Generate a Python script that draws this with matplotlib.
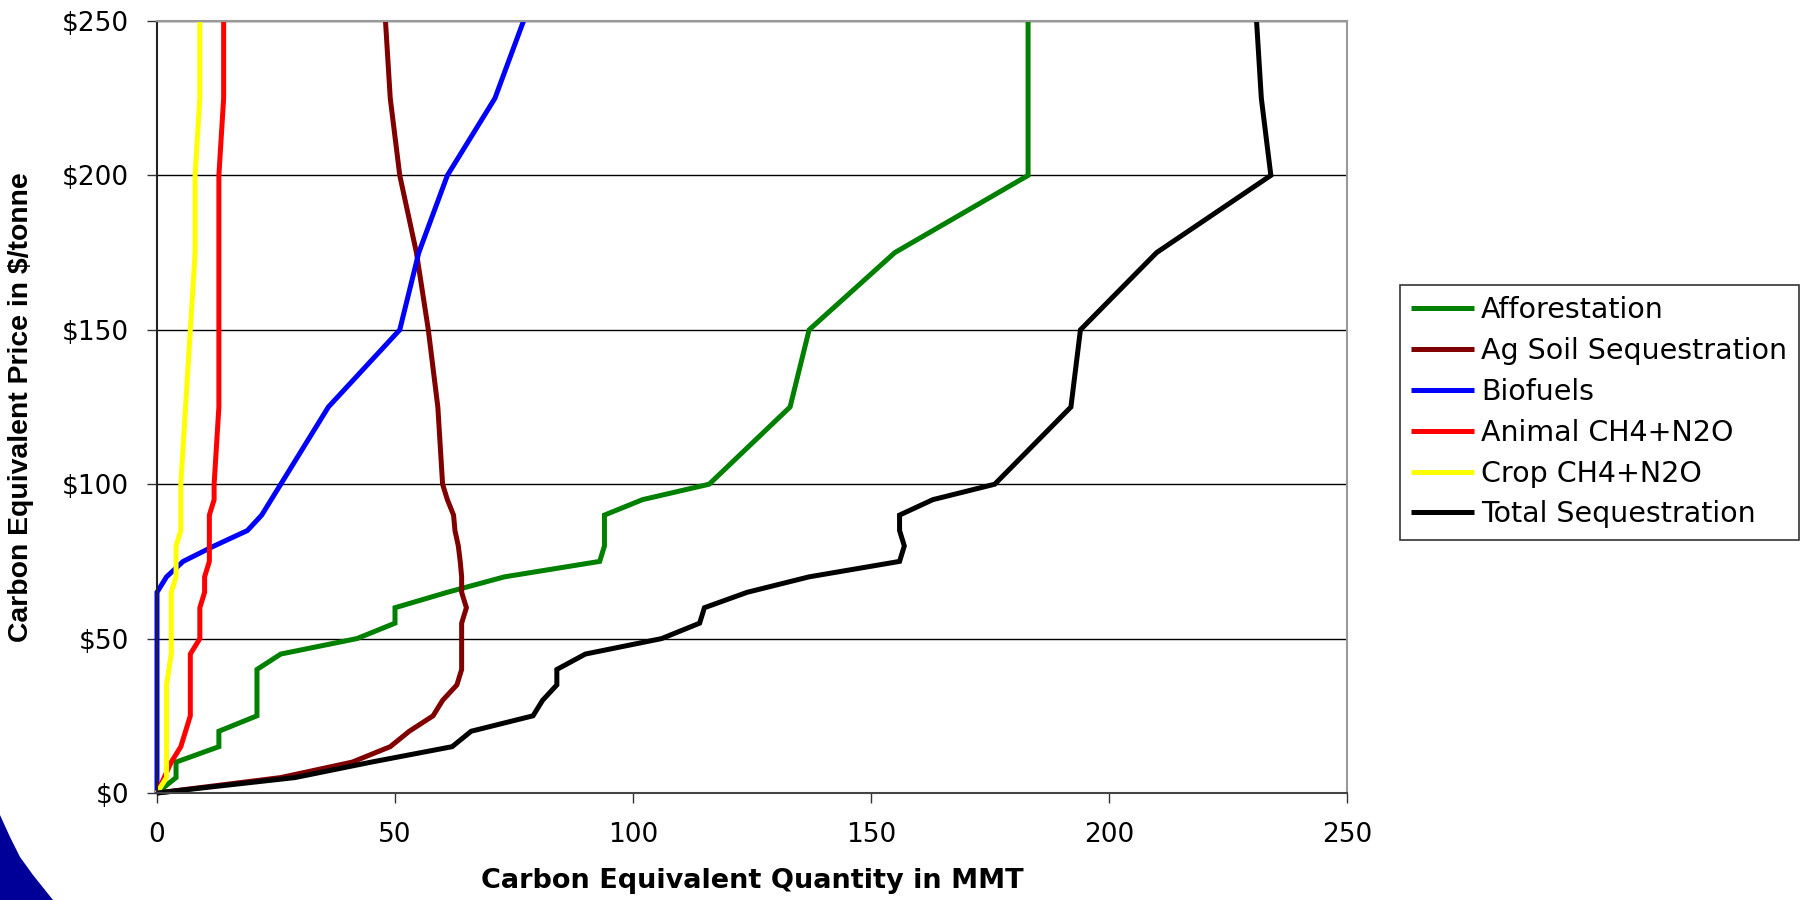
import matplotlib
matplotlib.use("Agg")
import matplotlib.pyplot as plt
from matplotlib.patches import Polygon

# Carbon price steps ($/tonne)
prices = [0, 5, 10, 15, 20, 25, 30, 35, 40, 45, 50, 55, 60, 65, 70, 75, 80, 85, 90, 95, 100,
          125, 150, 175, 200, 225, 250]

# Carbon equivalent quantity (MMT) supplied at each price
afforestation = [0, 4, 4, 13, 13, 21, 21, 21, 21, 26, 42, 50, 50, 61, 73, 93, 94, 94, 94, 102, 116,
                 133, 137, 155, 183, 183, 183]
ag_soil = [0, 26, 41, 49, 53, 58, 60, 63, 64, 64, 64, 64, 65, 64, 64, 63.7, 63.3, 62.6, 62.3, 61, 60,
           59, 57, 54.5, 51, 49, 48]
biofuels = [0, 0, 0, 0, 0, 0, 0, 0, 0, 0, 0, 0, 0, 0, 2, 5.5, 12, 19, 22, 24, 26,
            36, 51, 55, 61, 71, 77]
animal = [0, 1.5, 3, 5, 6, 7, 7, 7, 7, 7, 9, 9, 9, 10, 10, 11, 11, 11, 11, 12, 12,
          13, 13, 13, 13, 14, 14]
crop = [0, 2, 2, 2, 2, 2, 2, 2, 2.5, 3, 3, 3, 3, 3, 4, 4, 4, 5, 5, 5, 5,
        6, 7, 8, 8, 9, 9]
total = [0, 29, 45, 62, 66, 79, 81, 84, 84, 90, 106, 114, 115, 124, 137, 156, 157, 156, 156, 163, 176,
         192, 194, 210, 234, 232, 231]

series_names = ["Afforestation", "Ag Soil Sequestration", "Biofuels",
                "Animal CH4+N2O", "Crop CH4+N2O", "Total Sequestration"]
series_values = [afforestation, ag_soil, biofuels, animal, crop, total]
series_colors = ["#008000", "#800000", "#0000FF", "#FF0000", "#FFFF00", "#000000"]

x_ticks = [0, 50, 100, 150, 200, 250]
y_ticks = [0, 50, 100, 150, 200, 250]
y_tick_labels = ["$0", "$50", "$100", "$150", "$200", "$250"]

W, H = 1813, 900
fig = plt.figure(figsize=(W / 100, H / 100), dpi=100)

# slide template corner in the lower left
corner = [(0, 815), (10, 837), (20, 857), (33, 875), (53, 900), (0, 900)]
fig.patches.append(Polygon([(x / W, 1 - y / H) for x, y in corner], closed=True,
                           transform=fig.transFigure, facecolor="#000099",
                           edgecolor="none", zorder=0))

ax = fig.add_axes([157 / W, 1 - 793 / H, (1347 - 157) / W, (793 - 21) / H])

for name, vals, col in zip(series_names, series_values, series_colors):
    ax.plot(vals, prices, color=col, lw=3.6, label=name, clip_on=False,
            solid_joinstyle="miter", solid_capstyle="butt")

ax.set_xlim(0, 250)
ax.set_ylim(0, 250)
ax.set_xticks(x_ticks)
ax.set_yticks(y_ticks)
ax.set_yticklabels(y_tick_labels)
ax.tick_params(axis="both", direction="out", length=7, width=1, color="#333333",
               labelsize=19, labelcolor="black")
ax.tick_params(axis="y", pad=13)
ax.tick_params(axis="x", pad=14)

ax.set_axisbelow(True)
ax.yaxis.grid(True, color="black", lw=1)
ax.spines["left"].set_color("#222222")
ax.spines["bottom"].set_color("#444444")
ax.spines["top"].set_color("#999999")
ax.spines["right"].set_color("#999999")
for s in ax.spines.values():
    s.set_linewidth(1.5)

fig.text(752 / W, 1 - 881 / H, "Carbon Equivalent Quantity in MMT",
         ha="center", va="center", fontsize=19.5, fontweight="bold", family="DejaVu Sans")
fig.text(21 / W, 1 - 407 / H, "Carbon Equivalent Price in $/tonne", rotation=90,
         ha="center", va="center", fontsize=20.4, fontweight="bold", family="Liberation Sans")

leg = fig.legend(loc="upper left", bbox_to_anchor=(1400 / W, 1 - 285 / H),
                 bbox_transform=fig.transFigure, frameon=True, fancybox=False,
                 framealpha=1, edgecolor="#333333", fontsize=20.5, borderpad=0.4,
                 handlelength=2.2, handletextpad=0.25, labelspacing=0.45,
                 borderaxespad=0)
leg.get_frame().set_linewidth(1.2)

fig.savefig("out.png", dpi=100)
